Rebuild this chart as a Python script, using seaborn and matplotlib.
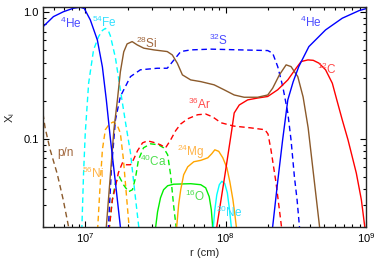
"""
Mass fractions X_i versus radius r for a presupernova-like star.
Values read off the reference picture (log10 r in cm, X_i linear).
"""

# %% ---- Requirements and constants ------------------------
import numpy as np
import pandas as pd
import seaborn as sns
import matplotlib
matplotlib.use('Agg')
import matplotlib.pyplot as plt
from matplotlib.ticker import FixedLocator, FixedFormatter, NullFormatter, LogLocator

# ---- inner 4He (blue solid)
he4_in_lgr = [6.678, 6.700, 6.773, 6.845, 6.916, 6.964, 6.993, 7.036, 7.086, 7.122,
              7.150, 7.179, 7.215, 7.250, 7.265]
he4_in_x = [0.725, 0.77, 0.923, 1.01, 1.076, 1.095, 1.07, 0.869, 0.604, 0.37,
            0.203, 0.1, 0.045, 0.0202, 0.0146]

# ---- outer 4He (blue solid)
he4_out_lgr = [8.323, 8.335, 8.370, 8.406, 8.443, 8.481, 8.521, 8.593, 8.712, 8.831,
               8.951, 9.010]
he4_out_x = [0.0175, 0.0202, 0.045, 0.098, 0.203, 0.282, 0.372, 0.535, 0.725, 0.897,
             1.03, 1.075]

# ---- 54Fe (cyan dashed)
fe54_lgr = [6.968, 6.976, 6.988, 7.000, 7.024, 7.059, 7.095, 7.122, 7.143, 7.165,
            7.179, 7.215, 7.250, 7.286, 7.322, 7.351, 7.381, 7.390]
fe54_x = [0.016, 0.0202, 0.054, 0.111, 0.275, 0.504, 0.642, 0.718, 0.745, 0.712,
          0.65, 0.436, 0.244, 0.136, 0.0776, 0.0396, 0.0202, 0.016]

# ---- 28Si (brown solid)
si28_lgr = [7.139, 7.150, 7.179, 7.204, 7.229, 7.250, 7.274, 7.298, 7.334, 7.370,
            7.417, 7.489, 7.584, 7.620, 7.656, 7.692, 7.751, 7.823, 7.918, 7.989,
            8.061, 8.132, 8.228, 8.300, 8.335, 8.383, 8.431, 8.466, 8.514, 8.552,
            8.588, 8.633, 8.669, 8.677]
si28_x = [0.0146, 0.0202, 0.052, 0.118, 0.203, 0.338, 0.486, 0.562, 0.586, 0.552,
          0.52, 0.504, 0.489, 0.46, 0.395, 0.32, 0.292, 0.283, 0.267, 0.244,
          0.222, 0.213, 0.213, 0.222, 0.251, 0.32, 0.384, 0.372, 0.31, 0.214,
          0.122, 0.045, 0.0203, 0.0161]

# ---- 32S (blue dashed)
s32_lgr = [7.150, 7.165, 7.186, 7.215, 7.250, 7.322, 7.393, 7.513, 7.584, 7.632,
           7.680, 7.751, 7.894, 8.109, 8.300, 8.335, 8.371, 8.407, 8.443, 8.466,
           8.490, 8.509, 8.526, 8.533]
s32_x = [0.016, 0.0202, 0.0569, 0.141, 0.216, 0.31, 0.351, 0.361, 0.361, 0.42,
         0.489, 0.504, 0.511, 0.504, 0.498, 0.475, 0.372, 0.259, 0.16, 0.098,
         0.0501, 0.033, 0.0202, 0.016]

# ---- 12C (red solid)
c12_lgr = [7.923, 7.937, 7.994, 8.044, 8.061, 8.097, 8.157, 8.228, 8.300, 8.371,
           8.443, 8.502, 8.538, 8.586, 8.624, 8.665, 8.712, 8.760, 8.792, 8.831,
           8.872, 8.931, 8.967, 8.991, 8.999]
c12_x = [0.016, 0.0202, 0.051, 0.118, 0.16, 0.185, 0.203, 0.21, 0.216, 0.244,
         0.292, 0.361, 0.408, 0.42, 0.417, 0.396, 0.351, 0.275, 0.203, 0.141,
         0.098, 0.0536, 0.033, 0.0203, 0.016]

# ---- 36Ar (red dashed)
ar36_lgr = [7.157, 7.172, 7.193, 7.215, 7.236, 7.265, 7.293, 7.322, 7.343, 7.372,
            7.408, 7.443, 7.486, 7.536, 7.572, 7.608, 7.644, 7.680, 7.730, 7.801,
            7.858, 7.908, 7.966, 8.059, 8.180, 8.280, 8.302, 8.323, 8.359, 8.398,
            8.409]
ar36_x = [0.016, 0.0202, 0.033, 0.0418, 0.054, 0.0647, 0.0624, 0.0624, 0.0683, 0.0804,
          0.0929, 0.0964, 0.0938, 0.0897, 0.0849, 0.098, 0.116, 0.131, 0.144, 0.155,
          0.157, 0.149, 0.134, 0.126, 0.122, 0.118, 0.109, 0.0819, 0.045, 0.0202,
          0.016]

# ---- 56Ni (orange dashed)
ni56_lgr = [7.079, 7.089, 7.104, 7.122, 7.143, 7.172, 7.200, 7.229, 7.250, 7.272,
            7.293, 7.308, 7.313, 7.318]
ni56_x = [0.016, 0.0202, 0.0396, 0.0819, 0.118, 0.131, 0.136, 0.127, 0.111, 0.0683,
          0.0361, 0.0229, 0.0202, 0.016]

# ---- 40Ca (green dashed)
ca40_lgr = [7.165, 7.172, 7.193, 7.215, 7.243, 7.272, 7.308, 7.336, 7.358, 7.379,
            7.415, 7.465, 7.522, 7.558, 7.587, 7.608, 7.629, 7.647, 7.655]
ca40_x = [0.016, 0.0202, 0.033, 0.045, 0.0501, 0.0434, 0.0382, 0.0396, 0.0492, 0.0683,
          0.0849, 0.0913, 0.0897, 0.0849, 0.0748, 0.052, 0.0301, 0.0202, 0.016]

# ---- 16O (green solid)
o16_lgr = [7.497, 7.501, 7.515, 7.536, 7.558, 7.587, 7.629, 7.751, 7.823, 7.858,
           7.883, 7.898, 7.908, 7.912]
o16_x = [0.016, 0.0199, 0.0265, 0.0342, 0.0396, 0.0426, 0.0438, 0.0442, 0.0434, 0.041,
         0.0349, 0.0275, 0.0199, 0.016]

# ---- 24Mg (orange solid)
mg24_lgr = [7.647, 7.651, 7.665, 7.680, 7.701, 7.730, 7.773, 7.823, 7.873, 7.901,
            7.923, 7.951, 7.980, 8.009, 8.030, 8.052, 8.066, 8.077, 8.080]
mg24_x = [0.016, 0.0199, 0.0301, 0.0396, 0.052, 0.0601, 0.0659, 0.0676, 0.0708, 0.0762,
          0.0819, 0.0796, 0.0708, 0.059, 0.0458, 0.033, 0.0251, 0.0199, 0.016]

# ---- 20Ne (cyan solid)
ne20_lgr = [7.908, 7.912, 7.923, 7.937, 7.955, 7.973, 7.994, 8.012, 8.026, 8.041, 8.044]
ne20_x = [0.016, 0.0199, 0.0275, 0.0361, 0.0434, 0.0462, 0.0442, 0.0375, 0.0285, 0.0199,
          0.016]

# ---- p/n (brown dashed)
pn_lgr = [6.678, 6.700, 6.714, 6.750, 6.800, 6.843, 6.881, 6.893]
pn_x = [0.185, 0.155, 0.122, 0.0819, 0.053, 0.033, 0.0202, 0.016]

# colours
BLUE, CYAN, BROWN = '#0000ff', '#00ffff', '#8b5a2b'
RED, ORANGE, GREEN = '#ff0000', '#ffa500', '#00ee00'


# %% ---- Function and class ------------------------
def draw(ax, lgr, x, color, dashed=False):
    df = pd.DataFrame(dict(r=np.power(10.0, lgr), X=x))
    sns.lineplot(df, x='r', y='X', ax=ax, color=color, linewidth=1.0,
                 estimator=None, sort=False,
                 linestyle=(0, (4.0, 2.6)) if dashed else '-')


# %% ---- Play ground ------------------------
if __name__ == '__main__':
    sns.set_style('ticks')
    plt.rcParams['font.family'] = ['Liberation Sans', 'DejaVu Sans']
    plt.rcParams['mathtext.fontset'] = 'custom'
    plt.rcParams['mathtext.rm'] = 'Liberation Sans'

    fig = plt.figure(figsize=(3.82, 2.73), dpi=100)
    ax = fig.add_axes([0.1126, 0.1674, 0.8455, 0.807])
    ax.set_xscale('log')
    ax.set_yscale('log')

    draw(ax, pn_lgr, pn_x, BROWN, dashed=True)
    draw(ax, fe54_lgr, fe54_x, CYAN, dashed=True)
    draw(ax, ni56_lgr, ni56_x, ORANGE, dashed=True)
    draw(ax, ca40_lgr, ca40_x, GREEN, dashed=True)
    draw(ax, ar36_lgr, ar36_x, RED, dashed=True)
    draw(ax, s32_lgr, s32_x, BLUE, dashed=True)
    draw(ax, o16_lgr, o16_x, GREEN)
    draw(ax, mg24_lgr, mg24_x, ORANGE)
    draw(ax, ne20_lgr, ne20_x, CYAN)
    draw(ax, c12_lgr, c12_x, RED)
    draw(ax, si28_lgr, si28_x, BROWN)
    draw(ax, he4_in_lgr, he4_in_x, BLUE)
    draw(ax, he4_out_lgr, he4_out_x, BLUE)

    ax.set_xlim(5e6, 1e9)
    ax.set_ylim(0.02, 1.1)

    ax.yaxis.set_major_locator(FixedLocator([0.1, 1.0]))
    ax.yaxis.set_major_formatter(FixedFormatter(['0.1', '1.0']))
    ax.yaxis.set_minor_locator(LogLocator(base=10, subs=np.arange(2, 10)))
    ax.yaxis.set_minor_formatter(NullFormatter())
    ax.xaxis.set_minor_formatter(NullFormatter())

    ax.tick_params(which='both', direction='in', top=True, right=True,
                   width=0.8, labelsize=8, pad=3, colors='black')
    ax.tick_params(which='major', length=4.6)
    ax.tick_params(which='minor', length=2.4)
    for s in ax.spines.values():
        s.set_linewidth(1.0)

    ax.set_xlabel('r (cm)', fontsize=8, labelpad=2)
    ax.set_ylabel(r'X$_\mathregular{i}$', fontsize=8, labelpad=5)

    # species labels
    labels = [
        (r'$^\mathregular{4}$He', 0.087, 0.925, '#4a4aff'),
        (r'$^\mathregular{54}$Fe', 0.189, 0.930, '#33e0ff'),
        (r'$^\mathregular{28}$Si', 0.322, 0.834, '#a0663c'),
        (r'$^\mathregular{32}$S', 0.542, 0.848, '#4a4aff'),
        (r'$^\mathregular{4}$He', 0.830, 0.930, '#4a4aff'),
        (r'$^\mathregular{12}$C', 0.879, 0.717, '#ff4a4a'),
        (r'$^\mathregular{36}$Ar', 0.486, 0.558, '#ff4a4a'),
        ('p/n', 0.071, 0.335, '#a0663c'),
        (r'$^\mathregular{56}$Ni', 0.155, 0.244, '#ffb347'),
        (r'$^\mathregular{40}$Ca', 0.341, 0.299, '#4ddf4d'),
        (r'$^\mathregular{24}$Mg', 0.458, 0.344, '#ffb347'),
        (r'$^\mathregular{16}$O', 0.471, 0.140, '#4ddf4d'),
        (r'$^\mathregular{20}$Ne', 0.576, 0.067, '#33e0ff'),
    ]
    for txt, fx, fy, col in labels:
        ax.text(fx, fy, txt, transform=ax.transAxes, color=col,
                fontsize=8.5, ha='center', va='center')

    fig.savefig('out.png', dpi=100)
